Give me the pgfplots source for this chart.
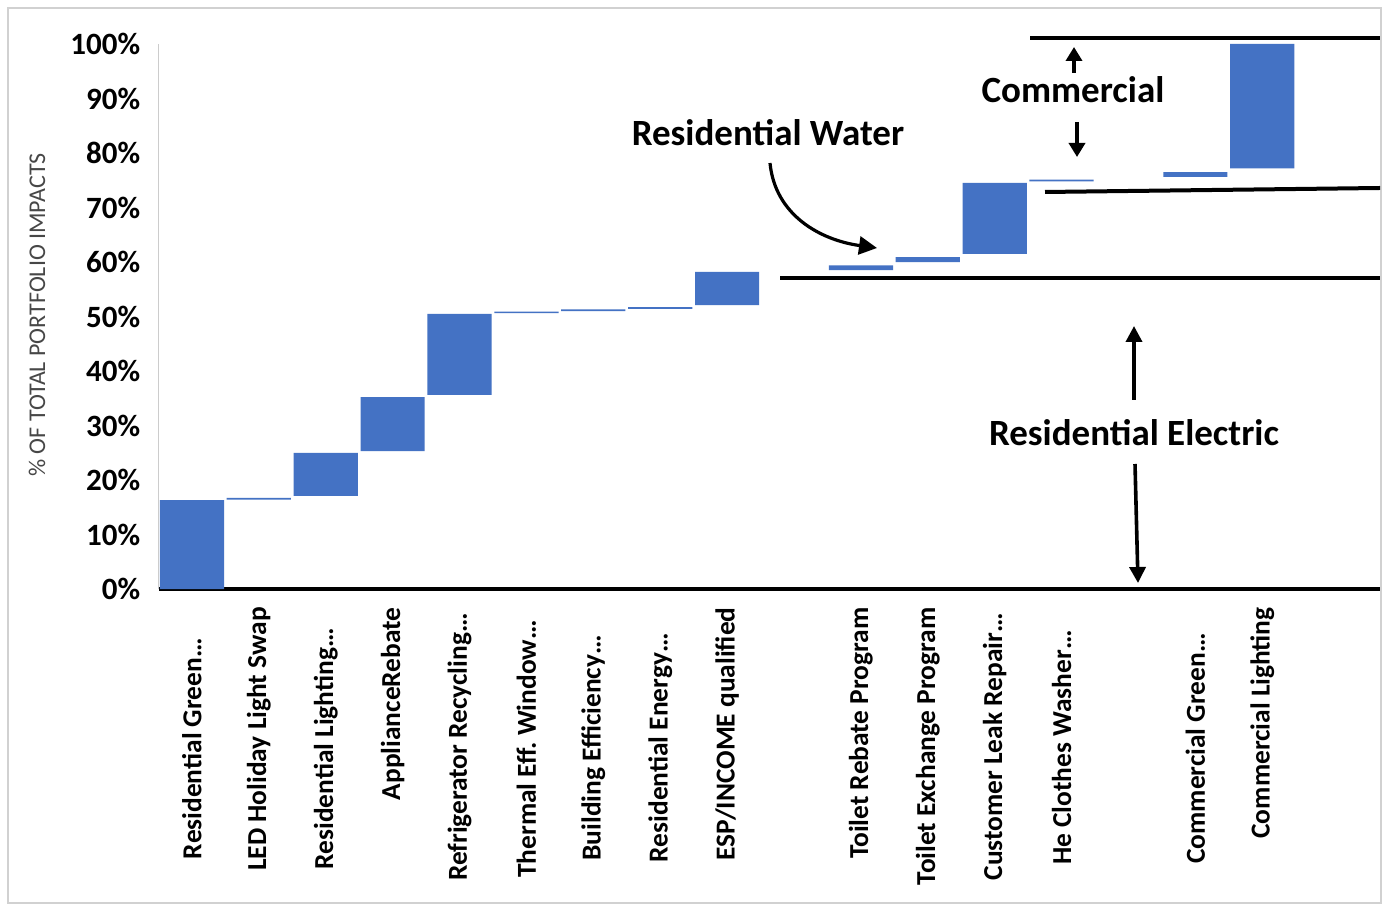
\documentclass[border=0pt]{standalone}
\usepackage{fontspec}
\setmainfont{Carlito}
\usepackage{pgfplots}
\pgfplotsset{compat=1.18}
\usetikzlibrary{arrows.meta}
\definecolor{barblue}{HTML}{4472C4}
\definecolor{labgray}{HTML}{474747}
\newcommand{\tr}[1]{\kern#1pt}
\begin{document}
\frenchspacing
\begin{tikzpicture}
% pixel frame
\begin{scope}[shift={(0pt,452.5pt)}, x=0.5pt, y=-0.5pt]
  \path[fill=white] (0,0) rectangle (1385,905);
  \draw[black!18, line width=0.6pt] (8,8) rectangle (1381,903);
\end{scope}
\begin{axis}[
  at={(79.25pt,158pt)}, anchor=south west,
  scale only axis, width=610.75pt, height=272.5pt,
  xmin=-0.5, xmax=17.76, ymin=0, ymax=100,
  enlargelimits=false, clip=false,
  axis x line=bottom, axis y line=left,
  x axis line style={line width=2pt, -},
  y axis line style={draw=black!20, line width=0.6pt, -},
  major tick length=0pt,
  /pgf/number format/assume math mode=true,
  ytick={0,10,...,100},
  yticklabel={\pgfmathprintnumber{\tick}\%},
  y tick label style={anchor=east, inner sep=0pt, xshift=-9pt, font=\bfseries\fontsize{15.5}{16}\selectfont},
  xtick={0,1,2,3,4,5,6,7,8,10,11,12,13,15,16},
  xticklabels={Residential Green…\tr{15.5},LED Holiday Light Swap,Residential Lighting…\tr{10.5},ApplianceRebate,Refrigerator Recycling…\tr{3},Thermal Eff.\ Window…\tr{6.5},Building Efficiency…\tr{14},Residential Energy…\tr{13},ESP/INCOME qualified,Toilet Rebate Program,Toilet Exchange Program,Customer Leak Repair…\tr{3},He Clothes Washer…\tr{11.5},Commercial Green…\tr{13},Commercial Lighting},
  x tick label style={yshift=-9pt, rotate=90, anchor=east, inner sep=0pt, font=\bfseries\fontsize{13.7}{14}\selectfont},
  ybar stacked, bar width=0.96,
]
\addplot[draw=none, fill=none] coordinates {
 (0,0) (1,16.4) (2,17.1) (3,25.3) (4,35.6) (5,50.6) (6,51.0) (7,51.4) (8,52.1)
 (10,58.5) (11,60.0) (12,61.5) (13,74.8) (15,75.6) (16,77.2)};
\addplot[draw=none, fill=barblue] coordinates {
 (0,16.3) (1,0.3) (2,7.9) (3,9.9) (4,14.9) (5,0.3) (6,0.3) (7,0.3) (8,6.1)
 (10,0.9) (11,0.9) (12,13.0) (13,0.3) (15,0.9) (16,22.8)};
\end{axis}
\begin{scope}[shift={(0pt,452.5pt)}, x=0.5pt, y=-0.5pt]
  % y label
  \node[rotate=90, text=labgray, font=\fontsize{12}{12}\selectfont] at (37,315) {\% OF TOTAL PORTFOLIO IMPACTS};
  % group lines
  \draw[line width=2pt] (780,278) -- (1380,278);
  \draw[line width=2pt] (1045,192) -- (1380,188);
  \draw[line width=2pt] (1030,38) -- (1380,38);
  % annotations
  \node[font=\bfseries\fontsize{18.5}{19}\selectfont] at (768,133) {Residential Water};
  \node[font=\bfseries\fontsize{18.5}{19}\selectfont] at (1073,90) {Commercial};
  \node[font=\bfseries\fontsize{18.5}{19}\selectfont] at (1134,433) {Residential Electric};
  \draw[line width=1.6pt, -{Triangle[length=9pt, width=9pt]}] (770,163) .. controls (775,215) and (820,240) .. (877,248);
  \draw[line width=1.8pt, -{Triangle[length=7pt, width=8pt]}] (1074,73) -- (1074,47);
  \draw[line width=1.8pt, -{Triangle[length=7pt, width=8pt]}] (1077,122) -- (1077,157);
  \draw[line width=1.8pt, -{Triangle[length=8pt, width=8pt]}] (1134,400) -- (1134,326);
  \draw[line width=1.8pt, -{Triangle[length=8pt, width=8pt]}] (1135,464) -- (1138,583);
\end{scope}
\end{tikzpicture}
\end{document}
